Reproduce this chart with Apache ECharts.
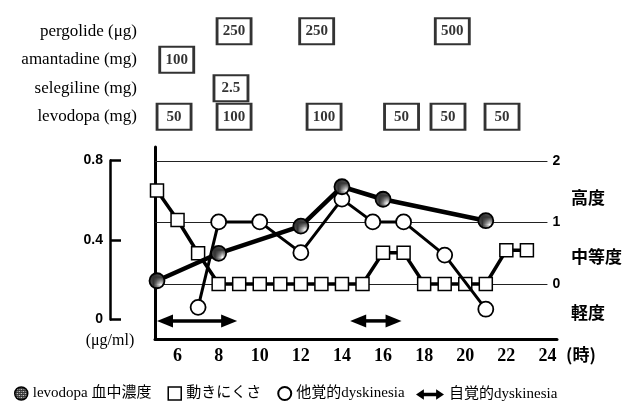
<!DOCTYPE html>
<html><head><meta charset="utf-8">
<script src="https://cdn.jsdelivr.net/npm/echarts@6/dist/echarts.min.js"></script>
<style>html,body{margin:0;padding:0;background:#fff}#c{width:625px;height:404px}</style>
</head><body><div id="c"></div>
<script>
// ---------------- data ----------------
const xTickLabels = [6, 8, 10, 12, 14, 16, 18, 20, 22, 24];
const concTicks = [0, 0.4, 0.8];
const severityTicks = [0, 1, 2];
const severityNames = ['軽度', '中等度', '高度'];

const levodopaHours = [5, 8, 12, 14, 16, 21];
const levodopaConc  = [0.195, 0.333, 0.47, 0.668, 0.605, 0.497];

const akinesiaHours = [5, 6, 7, 8, 9, 10, 11, 12, 13, 14, 15, 16, 17, 18, 19, 20, 21, 22, 23];
const akinesiaScore = [1.52, 1.04, 0.5, 0, 0, 0, 0, 0, 0, 0, 0, 0.51, 0.51, 0, 0, 0, 0, 0.55, 0.55];

const dyskObsHours = [7, 8, 10, 12, 14, 15.5, 17, 19, 21];
const dyskObsScore = [-0.38, 1.01, 1.01, 0.51, 1.38, 1.01, 1.01, 0.47, -0.41];

const dyskSelfStart = [5, 14.4];
const dyskSelfEnd   = [8.9, 16.9];

const drugNames = ['pergolide (μg)', 'amantadine (mg)', 'selegiline (mg)', 'levodopa (mg)'];
const pergolideHours  = [8.75, 12.77, 19.37];
const pergolideDoses  = ['250', '250', '500'];
const amantadineHours = [5.96];
const amantadineDoses = ['100'];
const selegilineHours = [8.6];
const selegilineDoses = ['2.5'];
const levodopaDoseHours = [5.83, 8.75, 13.13, 16.9, 19.16, 21.79];
const levodopaDoses     = ['50', '100', '100', '50', '50', '50'];

// ---------------- layout constants ----------------
const PX_PER_HOUR = 20.55;
const GRID_LEFT = 155, GRID_RIGHT_EDGE = 557;
const X_MIN = 5 - 2 / PX_PER_HOUR;
const X_MAX = X_MIN + (GRID_RIGHT_EDGE - GRID_LEFT) / PX_PER_HOUR;
const GRID_TOP = 147, GRID_BOTTOM = 339;
// concentration scale: 0 at y=319.5, 0.8 at y=160.5
const C0 = 319.5, C08 = 160.5, CPX = (C0 - C08) / 0.8;
const CONC_MIN = -(GRID_BOTTOM - C0) / CPX;
const CONC_MAX = 0.8 + (C08 - GRID_TOP) / CPX;
// severity scale: 0 at y=284, 2 at y=161
const S0 = 284, S2 = 161, SPX = (S0 - S2) / 2;
const SEV_MIN = -(GRID_BOTTOM - S0) / SPX;
const SEV_MAX = 2 + (S2 - GRID_TOP) / SPX;
const SEVERITY_LABEL_AT = [-0.47, 0.44, 1.4];
const ARROW_LEVEL = -0.6;

// halftone pattern for levodopa markers
const pc = document.createElement('canvas'); pc.width = 4; pc.height = 4;
const g = pc.getContext('2d');
g.fillStyle = '#333333'; g.fillRect(0, 0, 4, 4);
g.fillStyle = '#ffffff'; g.fillRect(0, 0, 1, 1); g.fillRect(2, 2, 1, 1);
g.fillStyle = '#a0a0a0'; g.fillRect(2, 0, 1, 1); g.fillRect(0, 2, 1, 1);
const halftone = { image: pc, repeat: 'repeat' };

const zip = (a, b) => a.map((v, i) => [v, b[i]]);
const SERIF = '"Liberation Serif", "Noto Sans CJK JP", serif';

const doseData = [];
[[pergolideHours, pergolideDoses], [amantadineHours, amantadineDoses],
 [selegilineHours, selegilineDoses], [levodopaDoseHours, levodopaDoses]].forEach((d, row) => {
  d[0].forEach((h, i) => doseData.push([h, drugNames[row], d[1][i]]));
});

const arrowPath = 'path://M0,6 L9,0 L9,4 L23,4 L23,0 L32,6 L23,12 L23,8 L9,8 L9,12 Z';

const chart = echarts.init(document.getElementById('c'), null, { renderer: 'canvas' });
chart.setOption({
  animation: false,
  backgroundColor: '#fff',
  textStyle: { color: '#000' },
  grid: [
    { left: GRID_LEFT, top: GRID_TOP, width: GRID_RIGHT_EDGE - GRID_LEFT, height: GRID_BOTTOM - GRID_TOP },
    { left: 110, top: C08, width: 1, height: C0 - C08 },
    { left: GRID_LEFT, top: 17, width: GRID_RIGHT_EDGE - GRID_LEFT, height: 114 }
  ],
  xAxis: [
    { gridIndex: 0, type: 'value', min: X_MIN, max: X_MAX,
      axisLine: { show: true, onZero: false, lineStyle: { color: '#000', width: 3 } },
      axisTick: { show: false }, splitLine: { show: false },
      axisLabel: { customValues: xTickLabels, margin: 8, color: '#000', fontSize: 18,
                   fontWeight: 'bold', fontFamily: '"Liberation Serif", serif' },
      name: '(時)', nameLocation: 'end', nameGap: 9,
      nameTextStyle: { fontSize: 17, fontWeight: 'bold', fontFamily: '"Noto Sans CJK JP"', color: '#000',
                       verticalAlign: 'top', padding: [7, 0, 0, 0] } },
    { gridIndex: 1, type: 'value', min: 0, max: 1, show: false },
    { gridIndex: 2, type: 'value', min: X_MIN, max: X_MAX, show: false }
  ],
  yAxis: [
    { gridIndex: 0, type: 'value', position: 'left', min: CONC_MIN, max: CONC_MAX,
      axisLine: { show: true, onZero: false, lineStyle: { color: '#000', width: 3 } },
      axisTick: { show: false }, axisLabel: { show: false }, splitLine: { show: false } },
    { gridIndex: 0, type: 'value', position: 'right', min: SEV_MIN, max: SEV_MAX,
      axisLine: { show: false }, axisTick: { show: false }, splitLine: { show: false },
      axisLabel: { customValues: SEVERITY_LABEL_AT, margin: 14, color: '#000', fontSize: 17,
                   fontWeight: 'bold', fontFamily: '"Noto Sans CJK JP"',
                   formatter: v => severityNames[SEVERITY_LABEL_AT.indexOf(v)] || '' } },
    { gridIndex: 1, type: 'value', position: 'left', min: 0, max: 0.8,
      axisLine: { show: true, onZero: false, lineStyle: { color: '#000', width: 2.5 } },
      axisTick: { show: true, inside: true, length: 11, customValues: concTicks,
                  lineStyle: { color: '#000', width: 2.5 } },
      axisLabel: { customValues: concTicks, margin: 7, color: '#000', fontSize: 14,
                   fontWeight: 'bold', fontFamily: '"Liberation Sans", sans-serif' },
      splitLine: { show: false },
      name: '(μg/ml)', nameLocation: 'start', nameGap: 13,
      nameTextStyle: { fontFamily: SERIF, fontSize: 16, color: '#000', align: 'center', verticalAlign: 'top' } },
    { gridIndex: 2, type: 'category', data: drugNames, inverse: true,
      axisLine: { show: false }, axisTick: { show: false }, splitLine: { show: false },
      axisLabel: { margin: 18, color: '#000', fontSize: 17, fontFamily: SERIF } }
  ],
  legend: [
    { left: 9, top: 381, itemWidth: 13, itemHeight: 13, itemGap: 16, selectedMode: false,
      textStyle: { fontSize: 15, fontFamily: SERIF, color: '#000' },
      data: [
        { name: 'levodopa 血中濃度', icon: 'circle', itemStyle: { color: halftone, borderColor: '#000', borderWidth: 1.5 } },
        { name: '動きにくさ', icon: 'rect', itemStyle: { color: '#fff', borderColor: '#000', borderWidth: 1.5 } },
        { name: '他覚的dyskinesia', icon: 'circle', itemStyle: { color: '#fff', borderColor: '#000', borderWidth: 2 } }
      ] },
    { left: 411, top: 382, itemWidth: 28, itemHeight: 11, selectedMode: false,
      textStyle: { fontSize: 15, fontFamily: SERIF, color: '#000' },
      data: [ { name: '自覚的dyskinesia', icon: arrowPath, itemStyle: { color: '#000', borderWidth: 0 } } ] }
  ],
  series: [
    { name: '動きにくさ', type: 'line', xAxisIndex: 0, yAxisIndex: 1,
      data: zip(akinesiaHours, akinesiaScore), symbol: 'rect', symbolSize: 13,
      showAllSymbol: true, clip: false, silent: true, z: 3,
      lineStyle: { color: '#000', width: 3.5 },
      itemStyle: { color: '#fff', borderColor: '#000', borderWidth: 1.5 },
      markLine: { silent: true, symbol: 'none', z: 1,
        lineStyle: { color: '#222', width: 1, type: 'solid' },
        label: { show: true, position: 'end', formatter: '{b}', distance: 5, color: '#000',
                 fontSize: 14, fontWeight: 'bold', fontFamily: '"Liberation Sans", sans-serif' },
        emphasis: { disabled: true },
        data: severityTicks.map(v => [{ name: String(v), coord: [X_MIN, v] },
                                      { coord: [xTickLabels[xTickLabels.length - 1], v] }]) } },
    { name: '他覚的dyskinesia', type: 'line', xAxisIndex: 0, yAxisIndex: 1,
      data: zip(dyskObsHours, dyskObsScore), symbol: 'circle', symbolSize: 15,
      showAllSymbol: true, clip: false, silent: true, z: 4,
      lineStyle: { color: '#000', width: 3 },
      itemStyle: { color: '#fff', borderColor: '#000', borderWidth: 1.8 } },
    { name: 'levodopa 血中濃度', type: 'line', xAxisIndex: 0, yAxisIndex: 0,
      data: zip(levodopaHours, levodopaConc), symbol: 'circle', symbolSize: 15,
      showAllSymbol: true, clip: false, silent: true, z: 5,
      lineStyle: { color: '#000', width: 4.5 },
      itemStyle: { color: halftone, borderColor: '#000', borderWidth: 1.8 } },
    { name: '自覚的dyskinesia', type: 'custom', xAxisIndex: 0, yAxisIndex: 1, silent: true,
      itemStyle: { color: '#000' },
      data: zip(dyskSelfStart, dyskSelfEnd),
      encode: { x: [0, 1] },
      renderItem: function (params, api) {
        const s = api.coord([api.value(0), ARROW_LEVEL]);
        const e = api.coord([api.value(1), ARROW_LEVEL]);
        const hl = 16, hw = 6.5;
        return { type: 'group', children: [
          { type: 'line', shape: { x1: s[0] + hl - 2, y1: s[1], x2: e[0] - hl + 2, y2: e[1] },
            style: { stroke: '#000', lineWidth: 3.5 } },
          { type: 'polygon', shape: { points: [[s[0], s[1]], [s[0] + hl, s[1] - hw], [s[0] + hl, s[1] + hw]] },
            style: { fill: '#000' } },
          { type: 'polygon', shape: { points: [[e[0], e[1]], [e[0] - hl, e[1] - hw], [e[0] - hl, e[1] + hw]] },
            style: { fill: '#000' } }
        ] };
      } },
    { name: 'doses', type: 'scatter', xAxisIndex: 2, yAxisIndex: 3, silent: true,
      data: doseData, symbol: 'rect', symbolSize: [34, 26],
      itemStyle: { color: '#fff', borderColor: '#000', borderWidth: 2.5 },
      label: { show: true, position: 'inside', formatter: p => p.value[2], color: '#000',
               fontSize: 15, fontWeight: 'bold', fontFamily: '"Liberation Serif", serif' } }
  ]
});
</script>
</body></html>
